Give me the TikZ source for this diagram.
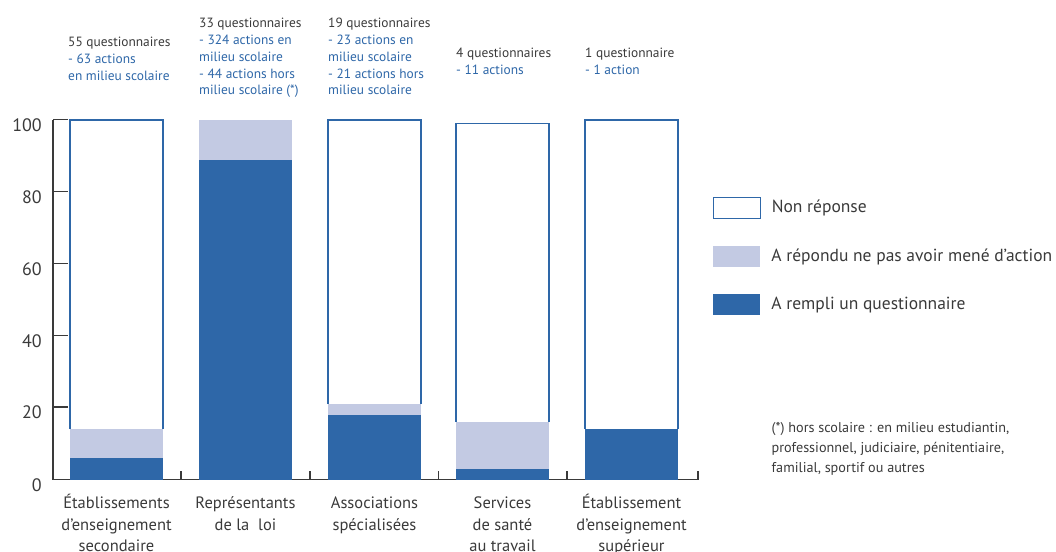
\documentclass[tikz,border=0pt]{standalone}
\usepackage{fontspec}
\setmainfont{PT Sans}
\usetikzlibrary{positioning}
\definecolor{barblue}{HTML}{2E67A8}
\definecolor{barlight}{HTML}{C3CAE3}
\definecolor{textgrey}{HTML}{3A3A3A}

\begin{document}
\begin{tikzpicture}[x=1pt, y=-1pt, every node/.style={inner sep=0pt, text=textgrey},
                    node distance=27pt]
    \tikzstyle{axis}=[draw=textgrey, line width=1.3pt]
    \tikzstyle{filled}=[fill=barblue]
    \tikzstyle{zero}=[fill=barlight]
    \tikzstyle{noanswer}=[draw=barblue, line width=1.1pt]
    \tikzstyle{ylabel}=[anchor=base east, font=\fontsize{18}{18}\selectfont]
    % multi-line nodes sit on the baseline of their last line
    \tikzstyle{category}=[anchor=base, align=center, font=\fontsize{16.5}{21.7}\selectfont]
    \tikzstyle{counts}=[anchor=base west, align=left, text=barblue, font=\fontsize{13.4}{16.9}\selectfont]
    \tikzstyle{key}=[rectangle, minimum width=46.7pt, minimum height=21pt]
    \tikzstyle{keytext}=[anchor=west, font=\fontsize{17.5}{17.5}\selectfont]

    \useasboundingbox (0,0) rectangle (1056,551);

    % axes
    \draw[axis] (53,119.5) -- (53,479.5) -- (698,479.5);
    \draw[axis] (53,119.5) -- (68,119.5) (53,191.4) -- (68,191.4) (53,263.3) -- (68,263.3)
                (53,335.2) -- (68,335.2) (53,407.1) -- (68,407.1);
    \draw[axis] (181,479.5) -- (181,470.5) (310,479.5) -- (310,470.5) (438.5,479.5) -- (438.5,470.5)
                (567,479.5) -- (567,470.5) (698,479.5) -- (698,470.5);
    \node[ylabel] (y100) at (42,131.3) {100};
    \node[ylabel] (y80) at (42,203.2) {80};
    \node[ylabel] (y60) at (42,275.1) {60};
    \node[ylabel] (y40) at (42,347) {40};
    \node[ylabel] (y20) at (42,418.9) {20};
    \node[ylabel] (y0) at (42,491.3) {0};

    % bars, in percent
    \begin{scope}[shift={(0,479.5)}, y=3.595pt]
      \fill[filled] (70,0) rectangle (163,6);
      \fill[zero] (70,6) rectangle (163,14);
      \draw[noanswer] (70,14) -- (70,100) -- (163,100) -- (163,14);
      \fill[filled] (199,0) rectangle (292,89);
      \fill[zero] (199,89) rectangle (292,100);
      \fill[filled] (328,0) rectangle (421,18);
      \fill[zero] (328,18) rectangle (421,21);
      \draw[noanswer] (328,21) -- (328,100) -- (421,100) -- (421,21);
      \fill[filled] (456,0) rectangle (549,3);
      \fill[zero] (456,3) rectangle (549,16);
      \draw[noanswer] (456,16) -- (456,99) -- (549,99) -- (549,16);
      \fill[filled] (585,0) rectangle (678,14);
      \draw[noanswer] (585,14) -- (585,100) -- (678,100) -- (678,14);
    \end{scope}

    \node[counts] (n1) at (68,80.5) {{\color{textgrey}55 questionnaires}\\- 63 actions\\en milieu scolaire};
    \node[counts] (n2) at (199,94.9) {{\color{textgrey}33 questionnaires}\\- 324 actions en\\milieu scolaire\\- 44 actions hors\\milieu scolaire (*)};
    \node[counts] (n3) at (328,94.9) {{\color{textgrey}19 questionnaires}\\- 23 actions en\\milieu scolaire\\- 21 actions hors\\milieu scolaire};
    \node[counts] (n4) at (456,74.6) {{\color{textgrey}4 questionnaires}\\- 11 actions};
    \node[counts] (n5) at (585,74.6) {{\color{textgrey}1 questionnaire}\\- 1 action};

    \node[category] (c1) at (116.5,551.7) {Établissements\\d’enseignement\\secondaire};
    \node[category] (c2) at (245.5,530) {Représentants\\de la\ \ loi};
    \node[category] (c3) at (374.5,530) {Associations\\spécialisées};
    \node[category] (c4) at (502.5,551.7) {Services\\de santé\\au travail};
    \node[category] (c5) at (631.5,551.7) {Établissement\\d’enseignement\\supérieur};

    % legend
    \node[key, draw=barblue, line width=1.1pt] (k1) at (736.7,207.8) {};
    \node[key, fill=barlight] (k2) [below=of k1] {};
    \node[key, fill=barblue] (k3) [below=of k2] {};
    \node[keytext] (t1) [right=11pt of k1] {Non réponse};
    \node[keytext] (t2) [right=11pt of k2] {A répondu ne pas avoir mené d’action};
    \node[keytext] (t3) [right=11pt of k3] {A rempli un questionnaire};

    \node[anchor=base west, align=left, font=\fontsize{14.2}{20.3}\selectfont] (note) at (771.5,472.9)
      {(*) hors scolaire : en milieu estudiantin,\\professionnel, judiciaire, pénitentiaire,\\familial, sportif ou autres};
\end{tikzpicture}
\end{document}
